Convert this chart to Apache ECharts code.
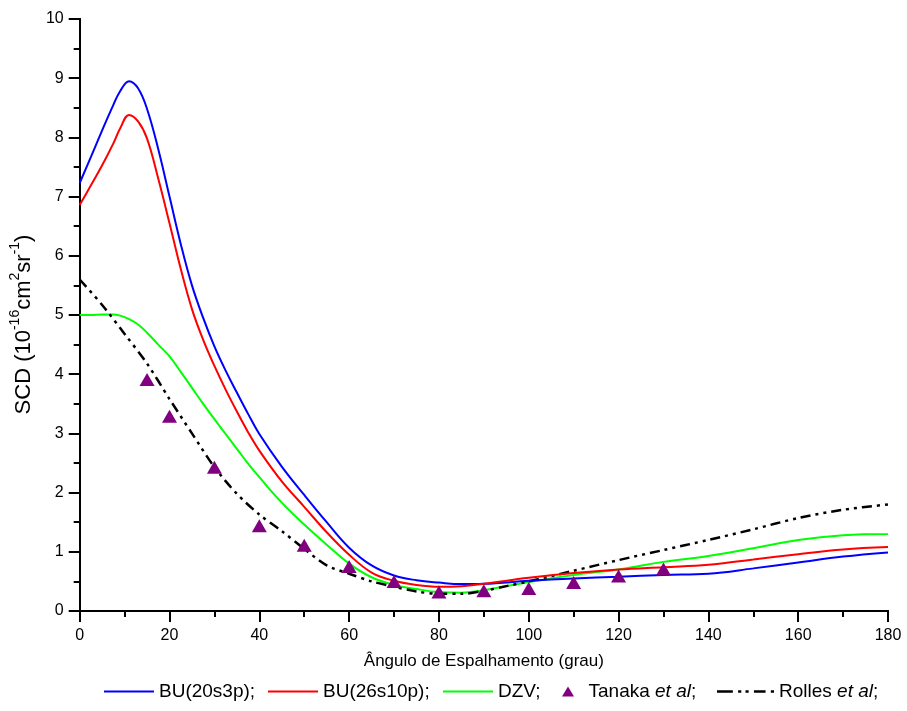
<!DOCTYPE html>
<html>
<head>
<meta charset="utf-8">
<script src="https://cdn.jsdelivr.net/npm/echarts@6/dist/echarts.min.js"></script>
<style>
html,body{margin:0;padding:0;background:#fff;}
#c{width:907px;height:711px;}
</style>
</head>
<body>
<div id="c"></div>
<script>
// ---- data ----
const xTicks = [0, 20, 40, 60, 80, 100, 120, 140, 160, 180];
const yTicks = [0, 1, 2, 3, 4, 5, 6, 7, 8, 9, 10];

const curveAngle = [0,2.5,5,7.5,9,11,13,15,17.5,20,22.5,25,27.5,30,32.5,35,37.5,40,45,50,55,60,65,70,75,80,85,90,100,110,120,130,140,150,160,170,180];
const bu20Value = [7.23,7.67,8.12,8.55,8.78,8.95,8.83,8.48,7.8,7.0,6.2,5.5,4.95,4.47,4.06,3.69,3.33,2.99,2.44,1.96,1.5,1.07,0.77,0.6,0.52,0.48,0.455,0.46,0.51,0.55,0.58,0.61,0.63,0.72,0.82,0.92,0.99];
const bu26Value = [6.86,7.19,7.53,7.9,8.15,8.38,8.27,7.98,7.3,6.55,5.78,5.1,4.58,4.14,3.74,3.37,3.02,2.71,2.19,1.76,1.33,0.95,0.65,0.51,0.44,0.41,0.42,0.46,0.56,0.64,0.7,0.74,0.78,0.87,0.96,1.04,1.08];
const dzvValue  = [5.0,5.0,5.01,5.01,4.99,4.93,4.84,4.7,4.5,4.3,4.04,3.77,3.5,3.24,2.99,2.74,2.49,2.26,1.83,1.46,1.12,0.8,0.57,0.44,0.37,0.32,0.31,0.35,0.49,0.61,0.7,0.83,0.93,1.06,1.2,1.28,1.3];

const tanakaAngle = [15,20,30,40,50,60,70,80,90,100,110,120,130];
const tanakaValue = [3.91,3.29,2.43,1.44,1.11,0.75,0.5,0.32,0.34,0.38,0.48,0.59,0.71];

const rollesAngle = [0,5,10,15,20,25,30,35,40,45,50,55,60,65,70,75,80,85,90,95,100,110,120,130,140,150,160,170,180];
const rollesValue = [5.6,5.17,4.68,4.18,3.58,3.0,2.43,1.98,1.63,1.35,1.05,0.77,0.63,0.5,0.41,0.33,0.29,0.29,0.34,0.42,0.5,0.68,0.86,1.03,1.2,1.38,1.57,1.71,1.8];

const seriesNames = ['BU(20s3p);', 'BU(26s10p);', 'DZV;', 'Tanaka et al;', 'Rolles et al;'];

// ---- chart ----
const zip = (a, b) => a.map((x, i) => [x, b[i]]);
const FONT = 'Liberation Sans, Arial, sans-serif';
const chart = echarts.init(document.getElementById('c'), null, {renderer: 'canvas'});

const axisLine = {show: true, lineStyle: {color: '#000', width: 2}};
const LINE_ICON = 'path://M0,0h50v2h-50z';
const TRI_ICON = 'path://M6,0L12,10L0,10Z';
const DASH_ICON = 'path://M0,0h15v2.5h-15z M20,0h3v2.5h-3z M27,0h3v2.5h-3z M35,0h11v2.5h-11z M51,0h3v2.5h-3z';

const legendBase = {
  top: 677, itemHeight: 10, orient: 'horizontal', selectedMode: false,
  textStyle: {color: '#000', fontSize: 19, fontFamily: FONT,
    rich: {i: {fontStyle: 'italic', fontSize: 19, fontFamily: FONT, color: '#000'}}},
  formatter: n => n.replace('et al', '{i|et al}')
};
const legends = [
  {left: 99, itemWidth: 50, icon: LINE_ICON, name: seriesNames[0]},
  {left: 263, itemWidth: 50, icon: LINE_ICON, name: seriesNames[1]},
  {left: 438, itemWidth: 50, icon: LINE_ICON, name: seriesNames[2]},
  {left: 557, itemWidth: 31, icon: TRI_ICON, name: seriesNames[3]},
  {left: 712, itemWidth: 57, icon: DASH_ICON, name: seriesNames[4]}
].map(l => Object.assign({}, legendBase, {left: l.left, itemWidth: l.itemWidth, data: [{name: l.name, icon: l.icon}]}));

chart.setOption({
  animation: false,
  backgroundColor: '#fff',
  grid: {left: 79, right: 19, top: 19, bottom: 100},
  xAxis: [{
    type: 'value', min: 0, max: 180, interval: 20,
    axisLine: axisLine,
    axisTick: {show: true, length: 11, lineStyle: {width: 2, color: '#000'}},
    minorTick: {show: true, splitNumber: 2, length: 6, lineStyle: {width: 2, color: '#000'}},
    splitLine: {show: false},
    axisLabel: {color: '#000', fontSize: 16, fontFamily: FONT, margin: 17,
      formatter: v => xTicks.includes(v) ? String(v) : ''},
    name: 'Ângulo de Espalhamento (grau)', nameLocation: 'middle', nameGap: 42,
    nameTextStyle: {color: '#000', fontSize: 17, fontFamily: FONT}
  }, {
    type: 'value', min: 0, max: 180, position: 'top',
    axisLine: axisLine, axisTick: {show: false}, axisLabel: {show: false}, splitLine: {show: false}
  }],
  yAxis: [{
    type: 'value', min: 0, max: 10, interval: 1,
    axisLine: axisLine,
    axisTick: {show: true, length: 11, lineStyle: {width: 2, color: '#000'}},
    minorTick: {show: true, splitNumber: 2, length: 6, lineStyle: {width: 2, color: '#000'}},
    splitLine: {show: false},
    axisLabel: {color: '#000', fontSize: 16, fontFamily: FONT, margin: 16,
      formatter: v => yTicks.includes(v) ? String(v) : ''},
    name: '{a|SCD (10}{s|-16}{a|cm}{s|2}{a|sr}{s|-1}{a|)}',
    nameLocation: 'middle', nameGap: 40, nameRotate: 90,
    nameTextStyle: {
      color: '#000', fontFamily: FONT, padding: [0, 19, 0, 0],
      rich: {
        a: {fontSize: 22, fontFamily: FONT, color: '#000', lineHeight: 27, verticalAlign: 'bottom'},
        s: {fontSize: 14, fontFamily: FONT, color: '#000', lineHeight: 27, verticalAlign: 'top', padding: [0, 0, 10, 0]}
      }
    }
  }, {
    type: 'value', min: 0, max: 10, position: 'right',
    axisLine: axisLine, axisTick: {show: false}, axisLabel: {show: false}, splitLine: {show: false}
  }],
  legend: legends,
  series: [
    {name: seriesNames[0], type: 'line', data: zip(curveAngle, bu20Value), smooth: 0.4, symbol: 'none',
     lineStyle: {color: '#0000ff', width: 2}, itemStyle: {color: '#0000ff'}, z: 3},
    {name: seriesNames[1], type: 'line', data: zip(curveAngle, bu26Value), smooth: 0.4, symbol: 'none',
     lineStyle: {color: '#ff0000', width: 2}, itemStyle: {color: '#ff0000'}, z: 3},
    {name: seriesNames[2], type: 'line', data: zip(curveAngle, dzvValue), smooth: 0.4, symbol: 'none',
     lineStyle: {color: '#00ff00', width: 2}, itemStyle: {color: '#00ff00'}, z: 2},
    {name: seriesNames[3], type: 'scatter', data: zip(tanakaAngle, tanakaValue), symbol: 'triangle', symbolSize: [15, 13],
     itemStyle: {color: '#800080', opacity: 1}, z: 4},
    {name: seriesNames[4], type: 'line', data: zip(rollesAngle, rollesValue), smooth: 0.3, symbol: 'none',
     lineStyle: {color: '#000', width: 2.5, type: [10, 5, 3, 5, 3, 5]}, itemStyle: {color: '#000'}, z: 2}
  ]
});
</script>
</body>
</html>
